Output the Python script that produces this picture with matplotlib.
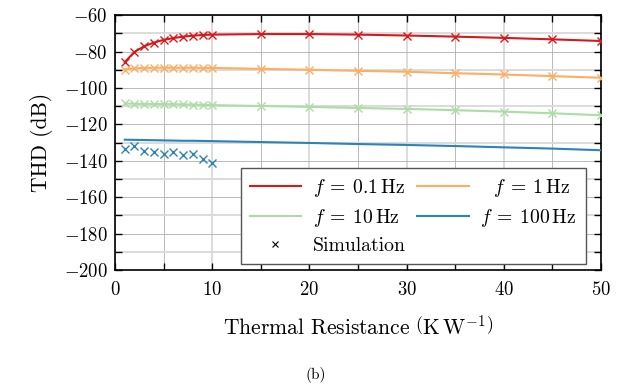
import matplotlib
matplotlib.use('Agg')
import matplotlib.pyplot as plt
import matplotlib.ticker as ticker
import numpy as np

plt.rcParams['font.family'] = ['cmr10']
plt.rcParams['mathtext.fontset'] = 'cm'
plt.rcParams['axes.formatter.use_mathtext'] = True
plt.rcParams['font.size'] = 13

# thermal resistance (K/W)
r_th = [1, 2, 3, 4, 5, 6, 7, 8, 9, 10, 15, 20, 25, 30, 35, 40, 45, 50]

# model THD (dB)
thd_01 = [-85.8, -80.2, -77.1, -75.1, -73.6, -72.6, -71.8, -71.3, -70.9, -70.7,
          -70.4, -70.4, -70.7, -71.2, -71.8, -72.5, -73.3, -74.2]
thd_1 = [-89.8, -89.2, -89.0, -88.9, -88.9, -88.9, -88.9, -88.9, -89.0, -89.0,
         -89.5, -90.0, -90.6, -91.1, -91.9, -92.6, -93.5, -94.4]
thd_10 = [-108.5, -108.7, -108.8, -108.8, -108.9, -108.9, -109.0, -109.1, -109.2, -109.4,
          -109.9, -110.4, -111.0, -111.5, -112.2, -113.0, -113.9, -115.0]
thd_100 = [-128.4, -128.5, -128.6, -128.7, -128.8, -128.9, -129.0, -129.0, -129.1, -129.2,
           -129.7, -130.2, -130.8, -131.3, -131.9, -132.6, -133.3, -134.2]

# simulation points
sim_01 = thd_01
sim_1 = [-90.2, -89.1, -88.9, -88.9, -88.9, -88.9, -88.9, -89.0, -89.0, -89.0,
         -89.5, -90.0, -90.6, -91.1, -91.9, -92.6, -93.5, -94.4]
sim_10 = [-108.4, -108.8, -108.8, -108.8, -108.9, -108.9, -109.0, -109.1, -109.2, -109.5,
          -109.9, -110.4, -111.0, -111.5, -112.2, -113.0, -113.9, -115.0]
r_sim_100 = [1, 2, 3, 4, 5, 6, 7, 8, 9, 10]
sim_100 = [-133.6, -132.1, -134.5, -135.0, -136.1, -135.2, -136.8, -136.0, -138.8, -141.4]

colors = ['#d7191c', '#fdae61', '#abdda4', '#2b83ba']
labels = [r'$f\:=\:0.1\,\mathrm{Hz}$', r'  $f\:=\:1\,\mathrm{Hz}$',
          r'$f\:=\:10\,\mathrm{Hz}$', r'$f\:=\:100\,\mathrm{Hz}$']

fig = plt.figure(figsize=(6.32, 3.88), dpi=100)
ax = fig.add_axes([0.182, 0.304, 0.769, 0.657])

models = [thd_01, thd_1, thd_10, thd_100]
sims = [(r_th, sim_01), (r_th, sim_1), (r_th, sim_10), (r_sim_100, sim_100)]
lines = []
for i in range(4):
    l, = ax.plot(r_th, models[i], color=colors[i], lw=1.5, label=labels[i], zorder=3)
    lines.append(l)
    ax.plot(sims[i][0], sims[i][1], 'x', color=colors[i], ms=5.5, mew=1.0, zorder=4)
sim_handle, = ax.plot([], [], 'x', color='black', ms=4, mew=0.8, label='Simulation')

ax.set_xlim(0, 50)
ax.set_ylim(-200, -60)
ax.xaxis.set_major_locator(ticker.MultipleLocator(10))
ax.xaxis.set_minor_locator(ticker.MultipleLocator(5))
ax.yaxis.set_major_locator(ticker.MultipleLocator(20))
ax.yaxis.set_minor_locator(ticker.MultipleLocator(10))
ax.tick_params(which='both', direction='in', top=True, right=True, length=5, width=1.0)
ax.tick_params(axis='x', which='major', labelsize=13.5, pad=8)
ax.tick_params(axis='y', which='major', labelsize=13.5, pad=5)

ax.xaxis.grid(True, which='major', color='#d9d9d9', lw=1.3)
ax.xaxis.grid(True, which='minor', color='#b0b0b0', lw=0.6)
ax.yaxis.grid(True, which='major', color='#b0b0b0', lw=0.6)
ax.yaxis.grid(True, which='minor', color='#d9d9d9', lw=1.3)
ax.set_axisbelow(True)
for s in ax.spines.values():
    s.set_linewidth(1.2)

ax.set_xlabel(r'Thermal Resistance $\left(\mathrm{K\,W^{-1}}\right)$', fontsize=15.5, labelpad=11)
ax.set_ylabel('THD (dB)', fontsize=15.5, labelpad=8)

# column-major order so rows read 0.1|1, 10|100, Simulation
order = [lines[0], lines[2], sim_handle, lines[1], lines[3]]
ax.legend(handles=order, ncol=2, loc='lower right',
          bbox_to_anchor=(0.969, 0.024), borderaxespad=0, fontsize=14.2, fancybox=False,
          edgecolor='#555555', framealpha=1, handlelength=2.6,
          columnspacing=0.6, borderpad=0.45, labelspacing=0.4, handletextpad=0.6)

fig.text(0.5, 0.022, '(b)', ha='center', fontsize=11)

fig.savefig('out.png', dpi=100)
